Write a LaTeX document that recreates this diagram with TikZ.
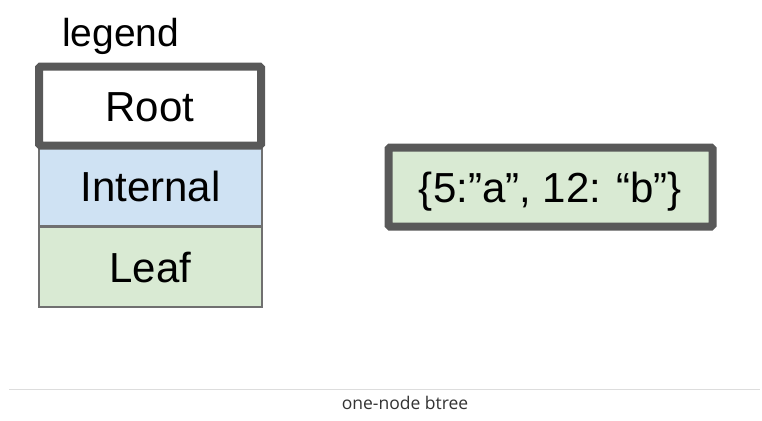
\documentclass[tikz,border=0pt]{standalone}
\usepackage{fontspec}
\setmainfont{Liberation Sans}
\newfontfamily\capfont{Open Sans}
\definecolor{boxgray}{HTML}{595959}
\definecolor{thingray}{HTML}{707070}
\definecolor{leafgreen}{HTML}{D9EAD3}
\definecolor{internalblue}{HTML}{CFE2F3}
\definecolor{rulegray}{HTML}{DDDDDD}
\definecolor{captext}{HTML}{333333}
\begin{document}
\begin{tikzpicture}[x=1pt,y=-1pt,
  bigtext/.style={font=\fontsize{42}{50}\selectfont, text height=30pt, text depth=0pt, inner sep=0pt},
  thickbox/.style={bigtext, draw=boxgray, line width=8pt, rounded corners=1.5pt},
  thinbox/.style={bigtext, draw=thingray, line width=1.5pt, minimum width=223pt, minimum height=80pt}]
\useasboundingbox[fill=white] (0,0) rectangle (762,420);
\node[anchor=base west, font=\fontsize{39}{47}\selectfont, inner sep=0pt] (legend) at (62,47) {legend};
\node[thinbox, fill=internalblue] (internal) at (150.5,186) {Internal};
\node[thinbox, fill=leafgreen] (leaf) at (150.5,267) {Leaf};
\node[thickbox, fill=white, minimum width=222pt, minimum height=79pt] (root) at (150,106) {Root};
\node[thickbox, fill=leafgreen, minimum width=324pt, minimum height=79pt] (kv) at (550.5,187) {\{5:”a”, 12: “b”\}};
\coordinate (ruleL) at (9,389);
\coordinate (ruleR) at (760,389);
\draw[rulegray, line width=1pt] (ruleL) -- (ruleR);
\node[anchor=base, font=\capfont\fontsize{17.5}{21}\selectfont, text=captext, inner sep=0pt] (caption) at (405,409) {one-node btree};
\end{tikzpicture}
\end{document}
